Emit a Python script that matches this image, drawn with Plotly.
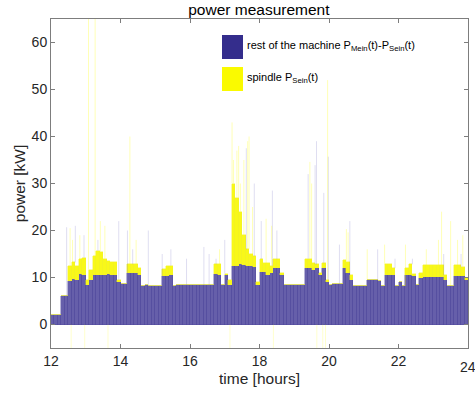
import plotly.graph_objects as go

# ---- data (0.1 h bins starting at 12.0 h) ----
bin_width = 0.1
rest_kw = [
    2.0, 2.0, 2.0, 6.0, 6.0, 9.3, 9.6, 9.5, 10.7, 10.6,      # 12
    8.4, 9.5, 10.5, 10.5, 10.6, 10.5, 10.7, 10.5, 10.6, 9.0,  # 13
    8.7, 8.7, 10.9, 10.9, 10.9, 10.5, 8.2, 8.3, 8.2, 8.2,     # 14
    8.1, 8.2, 10.3, 10.3, 10.5, 8.2, 8.3, 8.3, 8.3, 8.3,      # 15
    8.3, 8.3, 8.3, 8.3, 8.3, 8.3, 8.3, 10.7, 10.6, 8.5,       # 16
    10.5, 8.5, 12.5, 12.5, 12.8, 12.6, 12.4, 12.5, 12.3, 8.5, # 17
    11.1, 11.1, 10.5, 11.0, 12.1, 12.1, 10.5, 8.3, 8.3, 8.3,  # 18
    8.3, 8.3, 8.3, 12.1, 12.1, 11.5, 12.0, 10.5, 12.0, 9.0,   # 19
    8.5, 8.6, 8.6, 8.6, 12.1, 10.9, 9.5, 8.2, 8.2, 8.2,       # 20
    8.2, 9.5, 9.5, 9.5, 9.3, 8.2, 10.5, 10.5, 10.5, 8.2,      # 21
    9.0, 8.2, 10.5, 10.5, 10.3, 8.5, 10.0, 10.2, 10.2, 10.2,  # 22
    10.2, 10.2, 10.2, 9.5, 8.2, 8.2, 10.3, 10.3, 10.3, 9.5,   # 23
]
spindle_kw = [
    0, 0, 0, 0, 0, 3.1, 3.6, 3.0, 3.2, 3.6,
    1.0, 2.0, 4.1, 5.2, 4.9, 3.5, 2.9, 2.7, 2.8, 0.5,
    0, 0, 1.9, 1.9, 1.9, 1.5, 0, 0, 0, 0,
    0, 0, 1.5, 2.1, 2.0, 0, 0, 0, 0, 0,
    0, 0, 0, 0, 0, 0, 0, 2.1, 2.2, 0,
    0.3, 1.0, 17.5, 14.5, 11.2, 6.4, 3.6, 2.5, 2.2, 0.5,
    2.8, 1.9, 2.5, 1.5, 1.8, 1.8, 0.5, 0, 0, 0,
    0, 0, 0, 1.9, 1.9, 1.5, 0.8, 0.5, 1.0, 0.5,
    0, 0, 0, 0, 1.6, 2.5, 1.0, 0, 0, 0,
    0, 0, 0, 0, 0, 0, 2.3, 2.3, 1.5, 0,
    0, 0, 1.5, 2.3, 0.5, 0, 1.0, 2.4, 2.4, 2.4,
    2.4, 2.4, 2.4, 1.0, 0, 0, 2.3, 2.3, 2.0, 0.5,
]
# short peaks (time [h], peak power [kW])
spindle_peak_t = [12.55, 12.62, 12.83, 13.08, 13.27, 13.42, 13.55, 14.27, 14.45, 16.85,
                  17.21, 17.25, 17.35, 17.40, 17.45, 17.55, 17.66, 17.70, 17.80, 18.19,
                  18.35, 19.45, 19.50, 19.96, 20.50, 20.55, 21.10, 21.60, 22.20, 22.80,
                  23.15, 23.24, 23.50, 23.70, 23.85]
spindle_peak_kw = [20.5, 18, 19, 65, 65, 22, 21, 40, 18, 16,
                   43, 35, 37, 38, 30, 35, 39, 40, 25, 22.5,
                   21, 34.6, 30, 52, 20.3, 19.6, 16, 17, 17, 16,
                   18, 24, 22, 18, 19]
rest_peak_t = [12.45, 12.70, 12.95, 13.35, 13.95, 14.20, 14.35, 14.80, 15.20, 15.45,
               15.90, 16.40, 16.55, 16.75, 17.00, 17.62, 17.85, 18.05, 18.37, 18.50,
               19.40, 19.60, 19.64, 19.85, 19.98, 20.30, 20.60, 21.40, 21.90, 22.40,
               23.30, 23.80]
rest_peak_kw = [20.7, 21, 19, 18, 22, 20, 16, 20, 15, 16,
                14, 16.5, 15, 14, 18, 37.5, 30, 22, 28.5, 20,
                32, 33.9, 39, 28, 35.7, 17, 22, 16, 14, 14,
                15, 15]
negative_t = [12.58, 12.97, 13.64, 17.15, 18.40, 19.65, 19.82, 19.90]
negative_kw = [-5, -5, -5, -5, -5, -5, -5, -5]

x_ticks = [12, 14, 16, 18, 20, 22]
x_last_tick = 24
y_ticks = [0, 10, 20, 30, 40, 50, 60]

# ---- figure ----
centers = [12 + bin_width * (i + 0.5) for i in range(len(rest_kw))]

def level_at(t):
    i = min(max(int((t - 12) / bin_width), 0), len(rest_kw) - 1)
    return rest_kw[i] + spindle_kw[i]

def spike_xy(ts, tops, base_fn):
    xs, ys = [], []
    for t, v in zip(ts, tops):
        xs += [t, t, None]
        ys += [base_fn(t), v, None]
    return xs, ys

fig = go.Figure()
fig.add_trace(go.Bar(x=centers, y=rest_kw, width=bin_width,
                     marker=dict(color="rgb(102,95,170)",
                                 line=dict(color="rgb(78,70,155)", width=0.4)),
                     showlegend=False))
fig.add_trace(go.Bar(x=centers, y=spindle_kw, width=bin_width,
                     marker=dict(color="rgb(248,248,25)",
                                 line=dict(color="rgb(240,240,40)", width=0.4)),
                     showlegend=False))

bx, by = spike_xy(rest_peak_t, rest_peak_kw, level_at)
fig.add_trace(go.Scatter(x=bx, y=by, mode="lines", hoverinfo="skip",
                         line=dict(color="rgba(125,120,200,0.28)", width=0.9),
                         showlegend=False))
yx, yy = spike_xy(spindle_peak_t, spindle_peak_kw, level_at)
fig.add_trace(go.Scatter(x=yx, y=yy, mode="lines", hoverinfo="skip",
                         line=dict(color="rgba(255,255,0,0.32)", width=0.9),
                         showlegend=False))
nx, ny = spike_xy(negative_t, negative_kw, lambda t: 0)
fig.add_trace(go.Scatter(x=nx, y=ny, mode="lines", hoverinfo="skip",
                         line=dict(color="rgba(255,255,0,0.22)", width=0.9),
                         showlegend=False))

axis_col = "rgb(125,125,125)"
font_col = "rgb(38,38,38)"
fig.update_layout(
    width=475, height=397,
    margin=dict(l=51, r=7, t=19, b=49),
    paper_bgcolor="white", plot_bgcolor="white",
    barmode="stack", bargap=0,
    font=dict(family="Liberation Sans, Arial, sans-serif", size=14, color=font_col),
    title=dict(text="power measurement", x=0.545, xanchor="center",
               y=0.99, yanchor="top", font=dict(size=15.5, color="black")),
    xaxis=dict(range=[12, 24], tickvals=x_ticks,
               ticks="inside", ticklen=4,
               tickcolor=axis_col, showline=True, linecolor=axis_col, linewidth=1,
               mirror="ticks", showgrid=False, zeroline=False,
               tickfont=dict(size=14),
               title=dict(text="time [hours]", font=dict(size=15.5), standoff=5)),
    yaxis=dict(range=[-5, 65], tickvals=y_ticks, ticks="inside", ticklen=4,
               tickcolor=axis_col, showline=True, linecolor=axis_col, linewidth=1,
               mirror="ticks", showgrid=False, zeroline=False,
               tickfont=dict(size=14),
               title=dict(text="power [kW]", font=dict(size=15.5), standoff=2)),
)

# last x tick label (at the right edge of the axis, as in the reference)
fig.add_annotation(x=x_last_tick, xref="x", y=-0.028, yref="paper",
                   yanchor="top", xanchor="center", text=str(x_last_tick),
                   showarrow=False, font=dict(size=14, color=font_col))

# manual legend (MATLAB style, no box)
def px2paper_x(px):
    return (px - 51) / 417.0

def px2paper_y(py):
    return (348 - py) / 329.0

legend_items = [
    ("rgb(52,45,140)", "rest of the machine P<sub>Mein</sub>(t)-P<sub>Sein</sub>(t)", 35, 59),
    ("rgb(250,250,0)", "spindle P<sub>Sein</sub>(t)", 67, 91),
]
for col, txt, y0, y1 in legend_items:
    fig.add_shape(type="rect", xref="paper", yref="paper",
                  x0=px2paper_x(222), x1=px2paper_x(243),
                  y0=px2paper_y(y1), y1=px2paper_y(y0),
                  fillcolor=col, line=dict(width=0))
    fig.add_annotation(xref="paper", yref="paper", x=px2paper_x(245),
                       y=px2paper_y((y0 + y1) / 2 - 1), xanchor="left", yanchor="middle",
                       text=txt, showarrow=False,
                       font=dict(size=11, color="black"))

fig.write_html("out.html")
